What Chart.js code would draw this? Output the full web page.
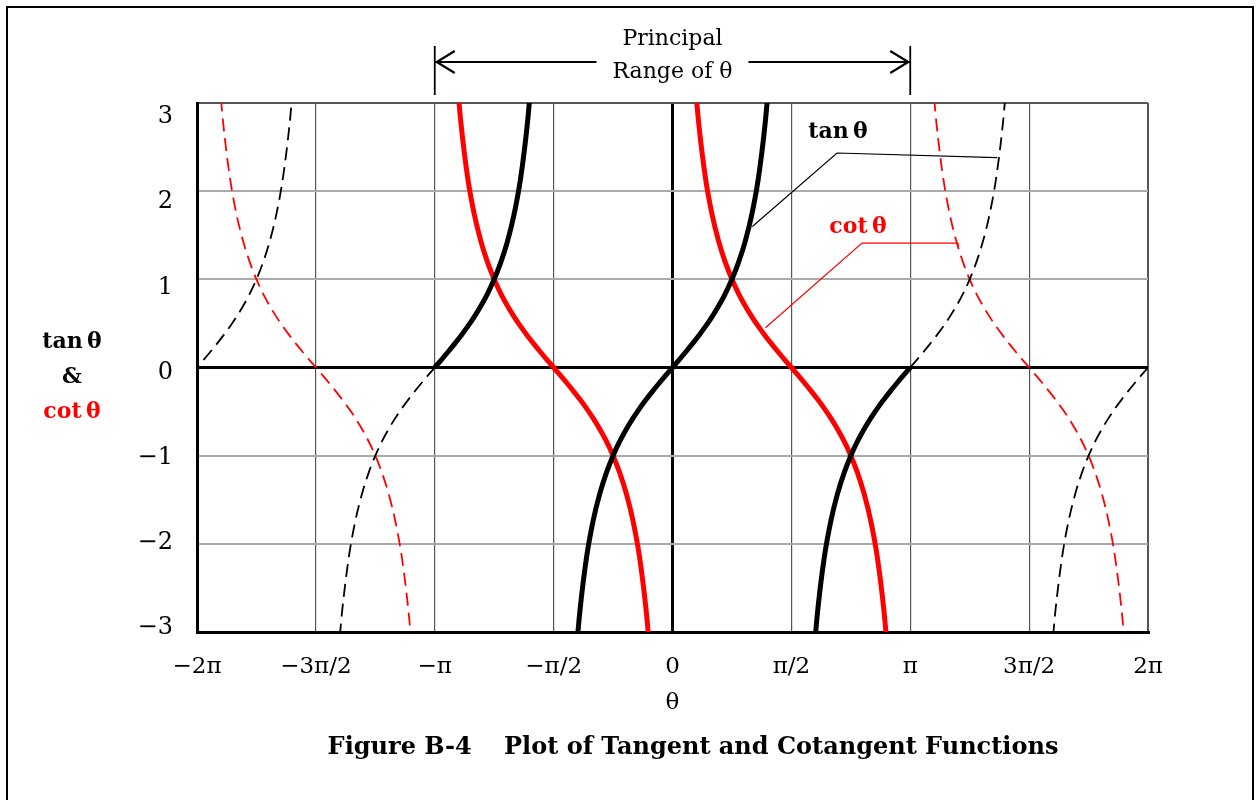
<!DOCTYPE html>
<html lang="en">
  <head>
    <meta charset="utf-8" />
    <title>Plot of Tangent and Cotangent Functions</title>
    <style>
      * {
        margin: 0;
        padding: 0;
      }
      body {
        background: #fff;
      }
      .chartBox {
        width: 1256px;
        height: 800px;
      }
    </style>
  </head>
  <body>
    <div class="chartBox">
      <canvas id="myChart"></canvas>
    </div>

    <script src="https://cdn.jsdelivr.net/npm/chart.js"></script>

    <script>
      // theta is in units of pi
      const xTickValues = [-2, -1.5, -1, -0.5, 0, 0.5, 1, 1.5, 2];
      const xTickLabels = ["\u22122\u03c0", "\u22123\u03c0/2", "\u2212\u03c0", "\u2212\u03c0/2", "0", "\u03c0/2", "\u03c0", "3\u03c0/2", "2\u03c0"];
      const yTickValues = [-3, -2, -1, 0, 1, 2, 3];
      const yTickLabels = ["\u22123", "\u22122", "\u22121", "0", "1", "2", "3"];

      // one branch: offset from the branch centre (degrees) and value
      const offsetDeg = [-75, -72, -70, -65, -60, -55, -50, -45, -40, -35, -30, -25, -20, -15, -10, -5, 0,
        5, 10, 15, 20, 25, 30, 35, 40, 45, 50, 55, 60, 65, 70, 72, 75];
      const tanValues = [-3.732, -3.078, -2.747, -2.145, -1.732, -1.428, -1.192, -1.0, -0.839, -0.700, -0.577, -0.466, -0.364, -0.268, -0.176, -0.087, 0,
        0.087, 0.176, 0.268, 0.364, 0.466, 0.577, 0.700, 0.839, 1.0, 1.192, 1.428, 1.732, 2.145, 2.747, 3.078, 3.732];
      const cotValues = [3.732, 3.078, 2.747, 2.145, 1.732, 1.428, 1.192, 1.0, 0.839, 0.700, 0.577, 0.466, 0.364, 0.268, 0.176, 0.087, 0,
        -0.087, -0.176, -0.268, -0.364, -0.466, -0.577, -0.700, -0.839, -1.0, -1.192, -1.428, -1.732, -2.145, -2.747, -3.078, -3.732];

      // zero crossings of each branch (units of pi)
      const tanCentres = [-2, -1, 0, 1, 2];
      const cotCentres = [-1.5, -0.5, 0.5, 1.5];
      const principalRange = [-1, 1];

      const TAN_COLOR = "#000000";
      const COT_COLOR = "#ff0000";

      function branchDatasets(centres, values, color) {
        const sets = [];
        centres.forEach((c) => {
          const pts = offsetDeg.map((d, i) => ({ x: c + d / 180, y: values[i] }));
          const inside = pts.filter((p) => p.x >= principalRange[0] && p.x <= principalRange[1]);
          const left = pts.filter((p) => p.x <= principalRange[0]);
          const right = pts.filter((p) => p.x >= principalRange[1]);
          [left, right].forEach((run) => {
            if (run.length > 1) {
              sets.push({ data: run, borderColor: color, borderWidth: 1.8, borderDash: [13, 7] });
            }
          });
          if (inside.length > 1) {
            sets.push({ data: inside, borderColor: color, borderWidth: 5 });
          }
        });
        return sets;
      }

      const datasets = [
        ...branchDatasets(tanCentres, tanValues, TAN_COLOR),
        ...branchDatasets(cotCentres, cotValues, COT_COLOR),
      ].map((ds) => ({
        ...ds,
        pointRadius: 0,
        fill: false,
        cubicInterpolationMode: "monotone",
        clip: 0,
        borderJoinStyle: "round",
        yAxisID: "y",
      }));

      const SERIF = "'DejaVu Serif', 'Liberation Serif', serif";

      const decorations = {
        id: "decorations",
        afterDraw(chart) {
          const { ctx, scales: { x, y } } = chart;
          ctx.save();

          // outer frame
          ctx.strokeStyle = "#000";
          ctx.lineWidth = 2;
          ctx.strokeRect(7, 7, 1246, 810);

          // principal range marker
          const xl = x.getPixelForValue(principalRange[0]);
          const xr = x.getPixelForValue(principalRange[1]);
          const xm = (xl + xr) / 2;
          const ay = 62;
          ctx.lineWidth = 1.8;
          ctx.beginPath();
          ctx.moveTo(xl, 46);
          ctx.lineTo(xl, 95);
          ctx.moveTo(xr, 46);
          ctx.lineTo(xr, 95);
          ctx.moveTo(xl, ay);
          ctx.lineTo(xm - 76, ay);
          ctx.moveTo(xm + 76, ay);
          ctx.lineTo(xr, ay);
          ctx.stroke();
          ctx.lineWidth = 2.2;
          ctx.beginPath();
          ctx.moveTo(xl + 20, ay - 11);
          ctx.lineTo(xl + 2, ay);
          ctx.lineTo(xl + 20, ay + 11);
          ctx.moveTo(xr - 20, ay - 11);
          ctx.lineTo(xr - 2, ay);
          ctx.lineTo(xr - 20, ay + 11);
          ctx.stroke();

          ctx.fillStyle = "#000";
          ctx.textAlign = "center";
          ctx.textBaseline = "middle";
          ctx.font = "22px " + SERIF;
          ctx.fillText("Principal", xm, 39);
          ctx.fillText("Range of \u03b8", xm, 72);

          // leader lines for the curve labels
          ctx.lineWidth = 1.2;
          ctx.strokeStyle = TAN_COLOR;
          ctx.beginPath();
          ctx.moveTo(x.getPixelForValue(1.366), y.getPixelForValue(2.38));
          ctx.lineTo(837, 153);
          ctx.lineTo(x.getPixelForValue(0.336), y.getPixelForValue(1.6));
          ctx.stroke();
          ctx.strokeStyle = COT_COLOR;
          ctx.beginPath();
          ctx.moveTo(x.getPixelForValue(1.203), y.getPixelForValue(1.38));
          ctx.lineTo(x.getPixelForValue(1.2), y.getPixelForValue(1.41));
          ctx.lineTo(862, 243);
          ctx.lineTo(x.getPixelForValue(0.391), y.getPixelForValue(0.45));
          ctx.stroke();

          ctx.font = "bold 22px " + SERIF;
          ctx.fillStyle = TAN_COLOR;
          ctx.fillText("tan\u2009\u03b8", 838, 132);
          ctx.fillStyle = COT_COLOR;
          ctx.fillText("cot\u2009\u03b8", 858, 227);

          // y axis title
          ctx.fillStyle = "#000";
          ctx.fillText("tan\u2009\u03b8", 72, 342);
          ctx.fillText("&", 72, 377);
          ctx.fillStyle = COT_COLOR;
          ctx.fillText("cot\u2009\u03b8", 72, 412);

          // x axis title
          ctx.fillStyle = "#000";
          ctx.font = "23px " + SERIF;
          ctx.fillText("\u03b8", x.getPixelForValue(0), 703);

          // caption
          ctx.font = "bold 24px " + SERIF;
          ctx.fillText("Figure B-4\u2003 Plot of Tangent and Cotangent Functions", 693, 748);

          ctx.restore();
        },
      };

      const config = {
        type: "line",
        data: { datasets: datasets },
        options: {
          responsive: false,
          animation: false,
          layout: {
            padding: { top: 103, right: 108, left: 0, bottom: 0 },
          },
          plugins: {
            legend: { display: false },
            tooltip: { enabled: false },
          },
          scales: {
            x: {
              type: "linear",
              min: -2,
              max: 2,
              afterBuildTicks: (scale) => {
                scale.ticks = xTickValues.map((v) => ({ value: v }));
              },
              afterFit: (scale) => {
                scale.height = 168;
              },
              ticks: {
                callback: (v) => xTickLabels[xTickValues.indexOf(v)],
                color: "#000",
                font: { family: SERIF, size: 23 },
                padding: 21,
                maxRotation: 0,
              },
              grid: {
                drawTicks: false,
                color: (c) => (c.tick && (c.tick.value === 0 || c.tick.value === -2) ? "#000" : "#555"),
                lineWidth: (c) => (c.tick && (c.tick.value === 0 || c.tick.value === -2) ? 3 : c.tick && c.tick.value === 2 ? 2 : 1.2),
              },
              border: { color: "#000", width: 3 },
            },
            // grid of the value axis
            y: {
              type: "linear",
              position: "left",
              weight: 0,
              min: -3,
              max: 3,
              afterBuildTicks: (scale) => {
                scale.ticks = yTickValues.map((v) => ({ value: v }));
              },
              afterFit: (scale) => {
                scale.width = 0;
              },
              ticks: { display: false },
              grid: {
                drawTicks: false,
                color: (c) => (c.tick && (c.tick.value === 0 || c.tick.value === -3) ? "#000" : c.tick && c.tick.value === 3 ? "#555" : "#aaa"),
                lineWidth: (c) => (c.tick && (c.tick.value === 0 || c.tick.value === -3) ? 3 : 2),
              },
              border: { color: "#000", width: 3 },
            },
            // labels of the value axis, spaced a little tighter than the grid as in the original
            yLabels: {
              type: "linear",
              position: "left",
              weight: 1,
              min: -3.047,
              max: 3.164,
              afterBuildTicks: (scale) => {
                scale.ticks = yTickValues.map((v) => ({ value: v }));
              },
              afterFit: (scale) => {
                scale.width = 197;
              },
              ticks: {
                callback: (v) => yTickLabels[yTickValues.indexOf(v)],
                color: "#000",
                font: { family: SERIF, size: 24 },
                padding: 24,
              },
              grid: { display: false, drawTicks: false },
              border: { display: false },
            },
          },
        },
        plugins: [decorations],
      };

      const canvas = document.getElementById("myChart");
      canvas.width = 1256;
      canvas.height = 800;
      const myChart = new Chart(canvas, config);
    </script>
  </body>
</html>
